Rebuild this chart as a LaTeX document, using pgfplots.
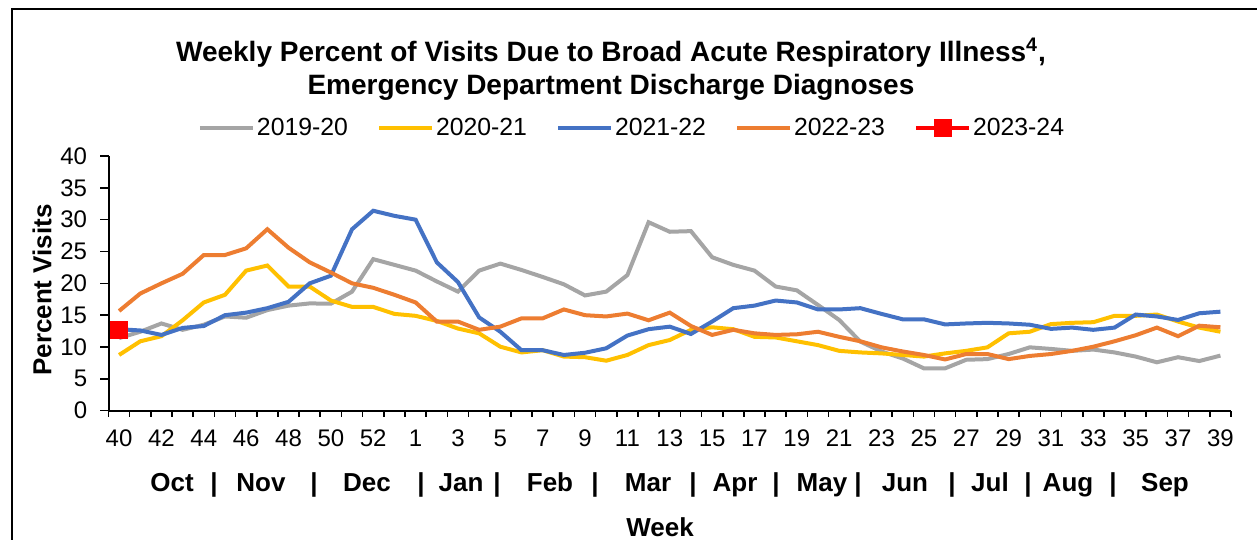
\documentclass[border=0pt]{standalone}
\usepackage{fontspec}
\setmainfont{Liberation Sans}
\usepackage{pgfplots}
\pgfplotsset{compat=1.18}
\usepackage{pgfplotstable}
\definecolor{cgray}{HTML}{A5A5A5}
\definecolor{cyellow}{HTML}{FFC000}
\definecolor{cblue}{HTML}{4472C4}
\definecolor{corange}{HTML}{ED7D31}
\definecolor{cred}{HTML}{FF0000}
\pgfplotstableread{
i g y b o
0 11.4 8.75 12.8 15.66
1 12.4 10.9 12.6 18.4
2 13.7 11.7 11.9 20.0
3 12.7 14.2 13.0 21.5
4 13.5 17.0 13.3 24.45
5 14.8 18.2 15.0 24.45
6 14.6 22.0 15.4 25.5
7 15.8 22.8 16.1 28.5
8 16.5 19.5 17.1 25.6
9 16.85 19.5 20.0 23.3
10 16.8 17.3 21.2 21.7
11 18.7 16.3 28.5 20.0
12 23.8 16.3 31.4 19.3
13 22.9 15.2 30.6 18.2
14 22.0 14.9 30.0 17.0
15 20.3 14.1 23.3 14.0
16 18.7 12.9 20.2 14.0
17 22.0 12.15 14.65 12.7
18 23.1 10.05 12.4 13.2
19 22.1 9.15 9.5 14.5
20 21.0 9.5 9.5 14.5
21 19.85 8.5 8.75 15.9
22 18.1 8.4 9.1 15.0
23 18.7 7.85 9.8 14.8
24 21.3 8.75 11.8 15.25
25 29.6 10.3 12.8 14.2
26 28.1 11.1 13.2 15.4
27 28.2 12.7 12.05 13.3
28 24.1 13.1 14.0 11.9
29 22.9 12.8 16.1 12.7
30 22.0 11.6 16.5 12.15
31 19.5 11.5 17.3 11.9
32 18.9 10.9 17.0 12.0
33 16.6 10.3 15.9 12.4
34 14.25 9.4 15.9 11.6
35 10.85 9.15 16.1 10.9
36 9.3 9.0 15.2 9.95
37 8.2 8.75 14.35 9.3
38 6.65 8.5 14.35 8.75
39 6.65 9.0 13.55 8.05
40 8.0 9.4 13.7 8.9
41 8.1 9.95 13.8 8.9
42 8.9 12.15 13.7 8.1
43 9.95 12.4 13.5 8.6
44 9.7 13.6 12.85 8.9
45 9.4 13.8 13.05 9.4
46 9.6 13.9 12.7 10.05
47 9.15 14.9 13.05 10.9
48 8.5 14.9 15.1 11.85
49 7.6 15.1 14.8 13.05
50 8.4 14.0 14.25 11.7
51 7.8 13.05 15.3 13.35
52 8.65 12.4 15.55 13.1
}\data
\pgfplotstableread{
i r
0 12.7
}\reddata
\begin{document}
\begin{tikzpicture}
\useasboundingbox (0,0) rectangle (628.5pt,270pt);
\begin{axis}[
  at={(54.25pt,64.65pt)}, anchor=south west,
  width=561.25pt, height=127.35pt, scale only axis,
  xmin=-0.5, xmax=52.5, ymin=0, ymax=40,
  axis x line*=bottom, axis y line*=left,
  axis line style={-, black, line width=1pt},
  ytick={0,5,...,40},
  tick align=outside, major tick length=4pt, minor tick length=3pt,
  xtick={0,2,...,52},
  xticklabels={40,42,44,46,48,50,52,1,3,5,7,9,11,13,15,17,19,21,23,25,27,29,31,33,35,37,39},
  minor xtick={-0.5,0.5,...,52.5},
  major x tick style={draw=none},
  tick style={black, line width=0.8pt},
  /pgf/number format/assume math mode=true,
  ticklabel style={font=\fontsize{12}{14}\selectfont},
  xticklabel style={anchor=north, inner sep=0pt, yshift=-5.3pt},
  yticklabel style={anchor=east, inner sep=0pt, xshift=-6.5pt},
  legend columns=5,
  legend style={at={(0.4664,1.110)}, anchor=center, draw=none, fill=none,
    font=\fontsize{12.4}{14}\selectfont, inner sep=0pt,
    /tikz/every even column/.append style={column sep=13.5pt},
    nodes={inner sep=1pt}},
  legend image code/.code={\draw[mark repeat=2,mark phase=2,#1] plot coordinates {(0pt,0pt) (13.25pt,0pt) (26.5pt,0pt)};},
]
\addplot[cgray, line width=2pt] table[x=i,y=g] {\data};
\addlegendentry{2019-20}
\addplot[cyellow, line width=2pt] table[x=i,y=y] {\data};
\addlegendentry{2020-21}
\addplot[cblue, line width=2pt] table[x=i,y=b] {\data};
\addlegendentry{2021-22}
\addplot[corange, line width=2pt] table[x=i,y=o] {\data};
\addlegendentry{2022-23}
\addplot[cred, line width=2pt, mark=square*, mark size=3.5pt, mark options={solid}] table[x=i,y=r] {\reddata};
\addlegendentry{2023-24}
\end{axis}
\begin{scope}[x=0.5pt,y=0.5pt]
\draw[line width=1pt] (11.5,0) -- (11.5,531) -- (1257,531);
\node[anchor=base, inner sep=0pt, font=\fontsize{14}{16}\selectfont\bfseries] at (611,478) {Weekly Percent of Visits Due to Broad Acute Respiratory Illness\textsuperscript{4},};
\node[anchor=base, inner sep=0pt, font=\fontsize{14}{16}\selectfont\bfseries] at (611,445) {Emergency Department Discharge Diagnoses};
\node[rotate=90, inner sep=0pt, font=\fontsize{13}{15}\selectfont\bfseries] at (42,250) {Percent Visits};
\foreach \xx/\tt in {172/Oct,261/Nov,367/Dec,461/Jan,550/Feb,648/Mar,735/Apr,822/May,905/Jun,990/Jul,1068/Aug,1165/Sep,214/|,314/|,421/|,497/|,595/|,693/|,776/|,858/|,952/|,1028/|,1113/|}
  \node[anchor=base, inner sep=0pt, font=\fontsize{13}{15}\selectfont\bfseries] at (\xx,48) {\tt};
\node[anchor=base, inner sep=0pt, font=\fontsize{13}{15}\selectfont\bfseries] at (660,3) {Week};
\end{scope}
\end{tikzpicture}
\end{document}
